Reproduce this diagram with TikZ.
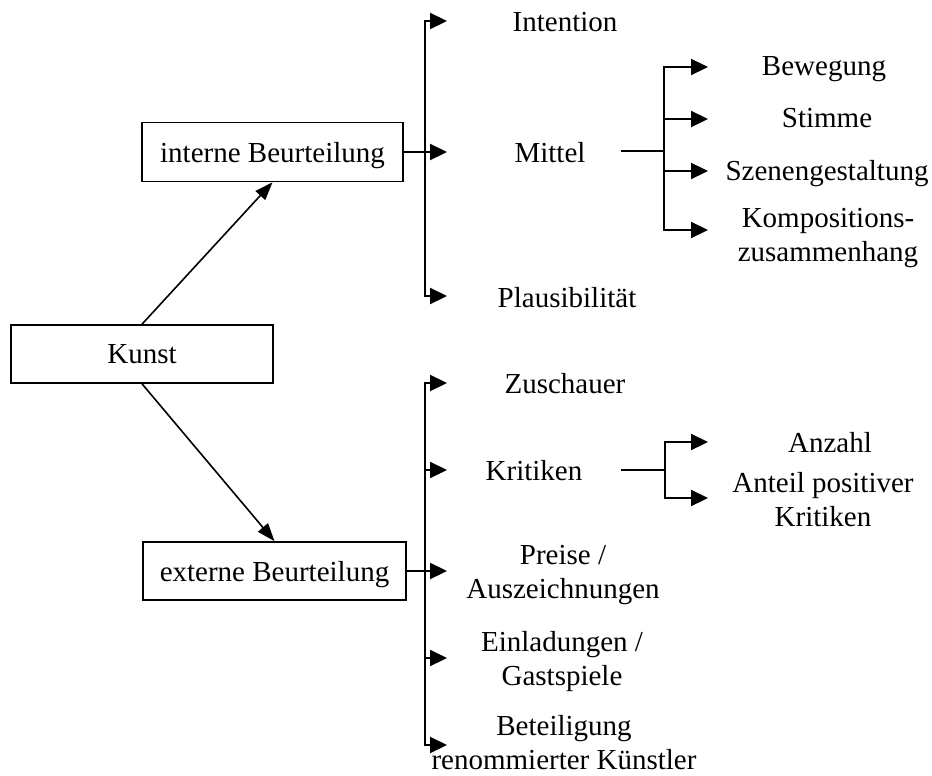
\documentclass[tikz,border=0pt]{standalone}
\usepackage{fontspec}
\setmainfont{Liberation Serif}
\usetikzlibrary{arrows.meta}
\begin{document}
\begin{tikzpicture}[x=1pt,y=-1pt,
  every node/.style={font=\fontsize{29}{34}\selectfont},
  box/.style={draw, line width=1.6pt, inner sep=0pt, text depth=0pt},
  lbl/.style={anchor=base, align=center, inner sep=0pt},
  bus/.style={line width=2.2pt, line cap=rect},
  brarrow/.style={line width=2.2pt, -{Triangle[length=17pt,width=16pt]}},
  mainarrow/.style={line width=1.6pt, -{Triangle[length=18pt,width=13pt]}}]
\useasboundingbox (0,0) rectangle (932,776);

% boxes
\node[box, minimum width=262pt, minimum height=58pt] (kunst) at (142,354) {Kunst};
\node[box, minimum width=261pt, minimum height=59pt] (intern) at (272.5,152) {interne Beurteilung};
\node[box, minimum width=263pt, minimum height=58pt] (extern) at (274.5,571) {externe Beurteilung};

% labels, internal assessment (base = baseline of the last line)
\node[lbl] (intention) at (565,32) {Intention};
\node[lbl] (mittel) at (550,162) {Mittel};
\node[lbl] (plaus) at (567,307) {Plausibilität};
\node[lbl] (bewegung) at (824,75) {Bewegung};
\node[lbl] (stimme) at (827,128) {Stimme};
\node[lbl] (szene) at (827,180) {Szenengestaltung};
\node[lbl] (kompo) at (828,261) {Kompositions-\\zusammenhang};

% labels, external assessment
\node[lbl] (zuschauer) at (565,393) {Zuschauer};
\node[lbl] (kritiken) at (534,480) {Kritiken};
\node[lbl] (preise) at (563,598) {Preise /\\Auszeichnungen};
\node[lbl] (einl) at (562,685) {Einladungen /\\Gastspiele};
\node[lbl] (beteil) at (564,769) {Beteiligung\\renommierter Künstler};
\node[lbl] (anzahl) at (830,452) {Anzahl};
\node[lbl] (anteil) at (823,526) {Anteil positiver\\Kritiken};

% main arrows
\draw[mainarrow] (kunst.north) -- (intern.south);
\draw[mainarrow] (kunst.south) -- (extern.north);

% internal bus
\coordinate (ibtop) at (425,21);
\coordinate (ibmid) at (425,152);
\coordinate (ibbot) at (425,296);
\draw[bus] (intern.east) -- (ibmid);
\draw[bus] (ibtop) -- (ibbot);
\foreach \c in {ibtop,ibmid,ibbot} \draw[brarrow] (\c) -- ++(22,0);

% Mittel sub-bus
\coordinate (mstart) at (622,151);
\coordinate (mjoin) at (664,151);
\coordinate (mtop) at (664,67);
\coordinate (m2) at (664,119);
\coordinate (m3) at (664,171);
\coordinate (mbot) at (664,230);
\draw[bus] (mstart) -- (mjoin);
\draw[bus] (mtop) -- (mbot);
\foreach \c in {mtop,m2,m3,mbot} \draw[brarrow] (\c) -- ++(44,0);

% external bus
\coordinate (ebtop) at (425,383);
\coordinate (eb2) at (425,470);
\coordinate (ebmid) at (425,571);
\coordinate (eb4) at (425,658);
\coordinate (ebbot) at (425,745);
\draw[bus] (extern.east) -- (ebmid);
\draw[bus] (ebtop) -- (ebbot);
\foreach \c in {ebtop,eb2,ebmid,eb4,ebbot} \draw[brarrow] (\c) -- ++(22,0);

% Kritiken sub-bus
\coordinate (kstart) at (622,470);
\coordinate (kjoin) at (665,470);
\coordinate (ktop) at (665,442);
\coordinate (kbot) at (665,498);
\draw[bus] (kstart) -- (kjoin);
\draw[bus] (ktop) -- (kbot);
\foreach \c in {ktop,kbot} \draw[brarrow] (\c) -- ++(43,0);
\end{tikzpicture}
\end{document}
